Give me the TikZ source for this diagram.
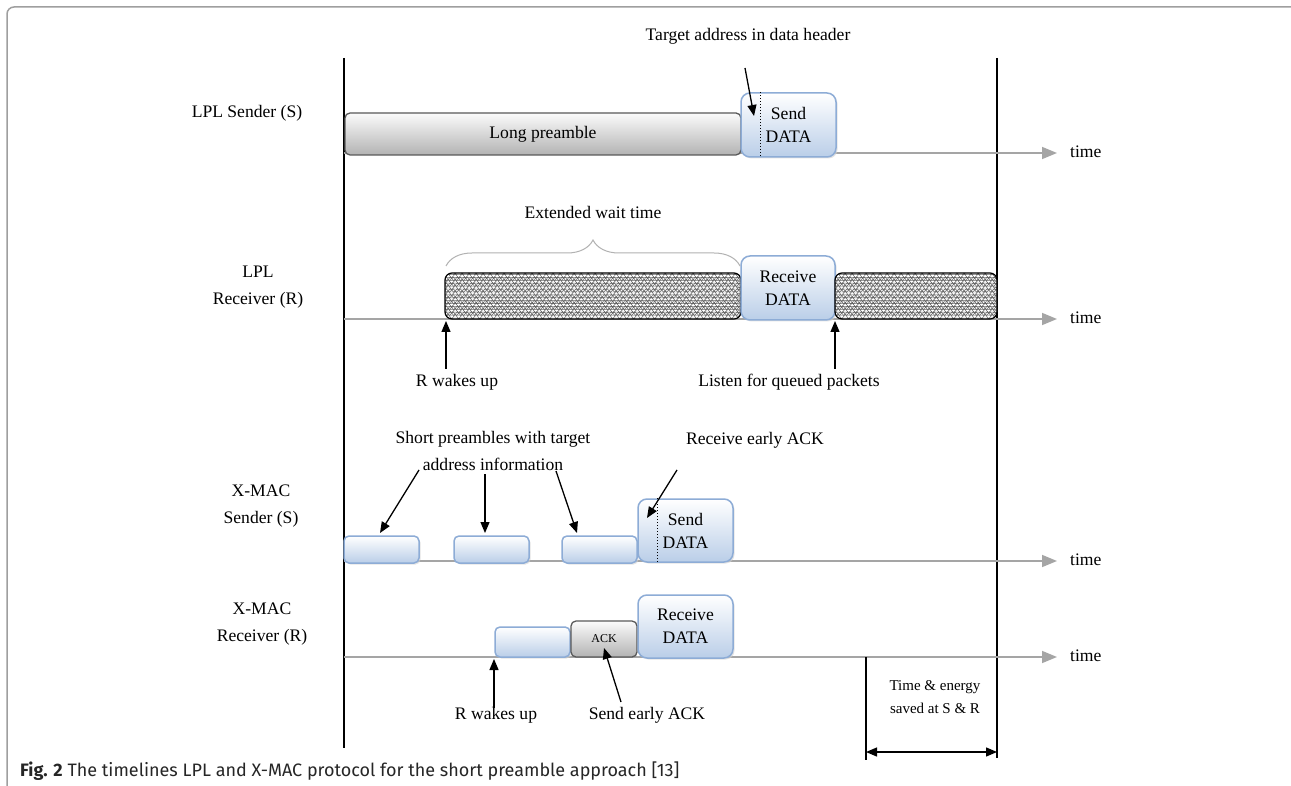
\documentclass[tikz,border=0pt]{standalone}
\usepackage{fontspec}
\setmainfont{Liberation Serif}
\setsansfont{Fira Sans}
\usetikzlibrary{arrows.meta,decorations.pathmorphing,decorations.pathreplacing,calc,shadows}
\definecolor{bfill}{RGB}{186,206,232}
\definecolor{bdraw}{RGB}{141,172,214}
\definecolor{tgray}{RGB}{165,165,165}
\begin{document}
\begin{tikzpicture}[x=1pt,y=-1pt,
  txt/.style={font=\fontsize{17.6}{27}\selectfont, align=center, inner sep=0pt},
  small/.style={font=\fontsize{15}{23}\selectfont, align=center, inner sep=0pt},
  bluebox/.style={draw=bdraw, line width=1.5pt, rounded corners=#1, top color=white, bottom color=bfill, inner sep=0pt,
     drop shadow={shadow xshift=1.5pt, shadow yshift=-1.5pt, fill=gray!35, opacity=0.6},
     font=\fontsize{17.6}{23}\selectfont, align=center},
  bluebox/.default=5pt,
  graybox/.style={draw=gray!70!black, line width=1.3pt, rounded corners=5pt, top color=gray!3, bottom color=gray!60, inner sep=0pt,
     font=\fontsize{17.6}{23}\selectfont, align=center},
  hatch/.style={draw=black, line width=1.2pt, rounded corners=7pt, fill=white, inner sep=0pt,
     path picture={
       \foreach \k in {0,...,7}
         \draw[line width=0.4pt, black!60, decorate, decoration={snake, amplitude=1.4pt, segment length=7pt}]
           ($(path picture bounding box.north west)+(-6,\k*5.8+3)$) -- ($(path picture bounding box.north east)+(6,\k*5.8+3)$);
     }},
  tl/.style={draw=tgray, line width=1.5pt, -{Triangle[length=15pt,width=12pt,fill=tgray]}},
  arr/.style={draw=black, line width=1.3pt, -{Triangle[length=11pt,width=9pt]}},
  vline/.style={draw=black, line width=1.2pt}
]
\useasboundingbox (0,0) rectangle (1291,786);
\fill[white] (0,0) rectangle (1291,786);
% frame
\draw[gray!75, line width=1.5pt, rounded corners=7pt] (7,786) -- (7,7) -- (1291,7);

% vertical lines
\coordinate (vl1) at (344,58); \coordinate (vl2) at (344,748);
\coordinate (vr1) at (997,58); \coordinate (vr2) at (997,758);
\draw[vline] (vl1) -- (vl2);
\draw[vline] (vr1) -- (vr2);

% timelines
\foreach \n/\y in {a/153,b/319,c/561,d/657}{
  \coordinate (ts\n) at (344,\y);
  \coordinate (te\n) at (1057,\y);
  \draw[tl] (ts\n) -- (te\n);
  \node[txt, anchor=west] (time\n) at (1070,\y-1) {time};
}

% row labels
\node[txt] (lab1) at (247,113) {LPL Sender (S)};
\node[txt] (lab2) at (258,287) {LPL\\Receiver (R)};
\node[txt] (lab3) at (261,506) {X-MAC\\Sender (S)};
\node[txt] (lab4) at (262,624) {X-MAC\\Receiver (R)};

% LPL sender
\node[graybox, minimum width=396pt, minimum height=42pt] (lp) at (543,134) {Long preamble};
\node[bluebox=9pt, minimum width=95pt, minimum height=64pt] (sd1) at (788.5,125) {Send\\DATA};
\draw[dotted, line width=1pt] ($(sd1.north west)+(20,0)$) -- ($(sd1.south west)+(20,0)$);
\node[txt] (tat) at (748,36) {Target address in data header};
\coordinate (ta1) at (745,68); \coordinate (ta2) at (754,116);
\draw[arr] (ta1) -- (ta2);

% LPL receiver
\node[hatch, minimum width=296pt, minimum height=46pt] (h1) at (593,296) {};
\node[bluebox=9pt, minimum width=94pt, minimum height=64pt] (rd1) at (788,288) {Receive\\DATA};
\node[hatch, minimum width=162pt, minimum height=46pt] (h2) at (916,296) {};
\draw[gray!60, line width=1pt, decorate, decoration={brace, amplitude=26pt, aspect=0.5}] (446,266) -- (740,266);
\node[txt] (ewt) at (593,212) {Extended wait time};
\coordinate (w1a) at (446,369); \coordinate (w1b) at (446,321);
\draw[arr] (w1a) -- (w1b);
\node[txt] (rw1) at (457,382) {R wakes up};
\coordinate (lqa) at (835,369); \coordinate (lqb) at (835,321);
\draw[arr] (lqa) -- (lqb);
\node[txt] (lq) at (789,382) {Listen for queued packets};

% X-MAC sender
\node[bluebox, minimum width=75pt, minimum height=27pt] (sp1) at (381.5,549.5) {};
\node[bluebox, minimum width=75pt, minimum height=27pt] (sp2) at (491.5,549.5) {};
\node[bluebox, minimum width=75pt, minimum height=27pt] (sp3) at (599.5,549.5) {};
\node[bluebox=9pt, minimum width=95pt, minimum height=63pt] (sd2) at (685.5,530.5) {Send\\DATA};
\draw[dotted, line width=1pt] ($(sd2.north west)+(20,0)$) -- ($(sd2.south west)+(20,0)$);
\node[txt] (spt) at (493,451) {Short preambles with target\\address information};
\coordinate (s1a) at (419,470); \coordinate (s1b) at (380,533);
\coordinate (s2a) at (485,474); \coordinate (s2b) at (485,533);
\coordinate (s3a) at (556,471); \coordinate (s3b) at (577,533);
\draw[arr] (s1a) -- (s1b);
\draw[arr] (s2a) -- (s2b);
\draw[arr] (s3a) -- (s3b);
\node[txt] (rea) at (755,440) {Receive early ACK};
\coordinate (r1a) at (677,470); \coordinate (r1b) at (647,518);
\draw[arr] (r1a) -- (r1b);

% X-MAC receiver
\node[bluebox, minimum width=75pt, minimum height=30pt] (rb1) at (532.5,642) {};
\node[graybox, minimum width=66pt, minimum height=36pt, font=\fontsize{12}{14}\selectfont] (ack) at (604,639) {ACK};
\node[bluebox=9pt, minimum width=95pt, minimum height=63pt] (rd2) at (685.5,626.5) {Receive\\DATA};
\coordinate (w2a) at (494,708); \coordinate (w2b) at (494,659);
\draw[arr] (w2a) -- (w2b);
\node[txt] (rw2) at (496,715) {R wakes up};
\coordinate (sea) at (621,702); \coordinate (seb) at (604,648);
\draw[arr] (sea) -- (seb);
\node[txt] (sea2) at (647,715) {Send early ACK};

% time & energy
\coordinate (te1) at (866,657); \coordinate (te2) at (866,760);
\draw[vline] (te1) -- (te2);
\coordinate (da) at (866,752); \coordinate (db) at (997,752);
\draw[line width=1.3pt, {Triangle[length=11pt,width=9pt]}-{Triangle[length=11pt,width=9pt]}] (da) -- (db);
\node[small] (tes) at (935,697) {Time \& energy\\saved at S \& R};

% caption
\node[anchor=base west, inner sep=0pt, font=\sffamily\fontsize{18}{20}\selectfont, text=black!85] (cap) at (20,776)
  {\textbf{Fig. 2} The timelines LPL and X-MAC protocol for the short preamble approach [13]};
\end{tikzpicture}
\end{document}
